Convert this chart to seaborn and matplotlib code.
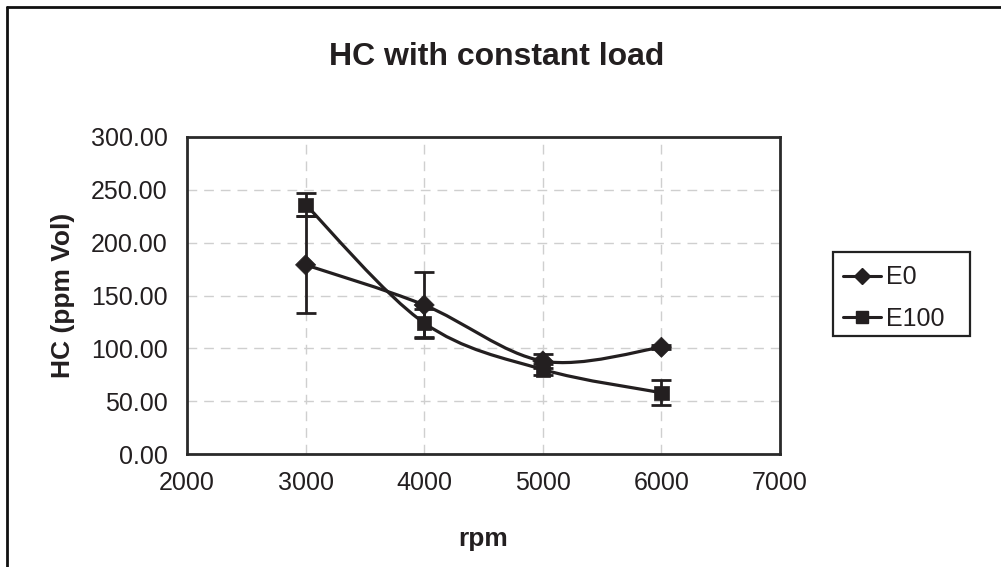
import numpy as np
import pandas as pd
import matplotlib
matplotlib.use("Agg")
import matplotlib.pyplot as plt
from matplotlib.path import Path
from matplotlib.patches import PathPatch, Rectangle
from matplotlib.lines import Line2D
import seaborn as sns

# ---- data ----
rpm = [3000, 4000, 5000, 6000]
e0 = [179, 141, 88, 101]
e0_err = [46, 31, 7, 2]
e100 = [236, 124, 80, 58]
e100_err = [11, 13, 5, 12]
series_names = ["E0", "E100"]
y_ticks = [0, 50, 100, 150, 200, 250, 300]
x_ticks = [2000, 3000, 4000, 5000, 6000, 7000]
title = "HC with constant load"
xlabel = "rpm"
ylabel = "HC (ppm Vol)"

sns.set_theme(style="white")
plt.rcParams['font.family'] = ['Liberation Sans', 'DejaVu Sans']

INK = "#231f20"

fig = plt.figure(figsize=(10.01, 5.67), dpi=100)
ax = fig.add_axes([187/1001, 1-454/567, (780-187)/1001, (454-137)/567])

df = pd.DataFrame({
    "rpm": rpm * 2,
    "HC": e0 + e100,
    "err": e0_err + e100_err,
    "series": [series_names[0]] * len(rpm) + [series_names[1]] * len(rpm),
})


def smooth_path(xs, ys):
    pts = np.column_stack([xs, ys]).astype(float)
    n = len(pts)
    verts = [pts[0]]
    codes = [Path.MOVETO]
    for i in range(n - 1):
        p0 = pts[i - 1] if i > 0 else pts[i]
        p1 = pts[i]
        p2 = pts[i + 1]
        p3 = pts[i + 2] if i + 2 < n else pts[i + 1]
        c1 = p1 + (p2 - p0) / 6.0
        c2 = p2 - (p3 - p1) / 6.0
        verts += [c1, c2, p2]
        codes += [Path.CURVE4] * 3
    return Path(verts, codes)


markers = {"E0": "D", "E100": "s"}
msizes = {"E0": 8.5, "E100": 8.5}
for name in series_names:
    sub = df[df["series"] == name]
    ax.add_patch(PathPatch(smooth_path(sub["rpm"].values, sub["HC"].values),
                           facecolor="none", edgecolor=INK, lw=2.3, zorder=3))
    ax.errorbar(sub["rpm"], sub["HC"], yerr=sub["err"], fmt="none",
                ecolor=INK, elinewidth=2.0, capsize=7.5, capthick=2.0, zorder=4)

sns.scatterplot(data=df, x="rpm", y="HC", style="series", markers=markers,
                color=INK, s=105, edgecolor=INK, linewidth=0.5, ax=ax,
                legend=False, zorder=5)

ax.set_xlim(2000, 7000)
ax.set_ylim(0, 300)
ax.set_xticks(x_ticks)
ax.set_yticks(y_ticks)
ax.set_xticklabels([str(v) for v in x_ticks])
ax.set_yticklabels([f"{v:.2f}" for v in y_ticks])
ax.grid(True, color="#cfcfcf", linestyle=(0, (7, 5)), linewidth=1.0, zorder=0)
ax.set_axisbelow(True)
for s in ax.spines.values():
    s.set_visible(True)
    s.set_color("#2a2a2a")
    s.set_linewidth(2.0)
ax.tick_params(axis="both", which="major", direction="out", length=6,
               width=1.0, color="#aaaaaa", labelsize=18, labelcolor=INK)
ax.tick_params(axis="y", pad=8)
ax.tick_params(axis="x", pad=6)

ax.set_xlabel(xlabel, fontsize=19, fontweight="bold", color=INK, labelpad=23)
ax.set_ylabel(ylabel, fontsize=19, fontweight="bold", color=INK, labelpad=11)
fig.text(497/1001, 1-57/567, title, ha="center", va="center",
         fontsize=23, fontweight="bold", color=INK)

# legend frame
fig.add_artist(Rectangle((833/1001, 1-336/567), (970-833)/1001, (336-252)/567,
                         transform=fig.transFigure, facecolor="white",
                         edgecolor="#222222", lw=1.6, zorder=1))
handles = [Line2D([], [], color=INK, lw=2.2, marker=markers[n], markersize=msizes[n],
                  markerfacecolor=INK, markeredgecolor=INK) for n in series_names]
leg = fig.legend(handles, series_names, loc="upper left",
                 bbox_to_anchor=(832/1001, 1-254/567), fontsize=18,
                 frameon=False, handlelength=1.5, handletextpad=0.2,
                 borderpad=0.45, labelspacing=0.7, borderaxespad=0)
leg.set_zorder(2)
for t in leg.get_texts():
    t.set_color(INK)

# outer frame (top and left edges visible)
fig.add_artist(Line2D([7/1001, 1.0], [1-7/567, 1-7/567], transform=fig.transFigure,
                      color="#111111", lw=2))
fig.add_artist(Line2D([7/1001, 7/1001], [0, 1-7/567], transform=fig.transFigure,
                      color="#111111", lw=2))

fig.savefig("out.png", dpi=100, facecolor="white")
